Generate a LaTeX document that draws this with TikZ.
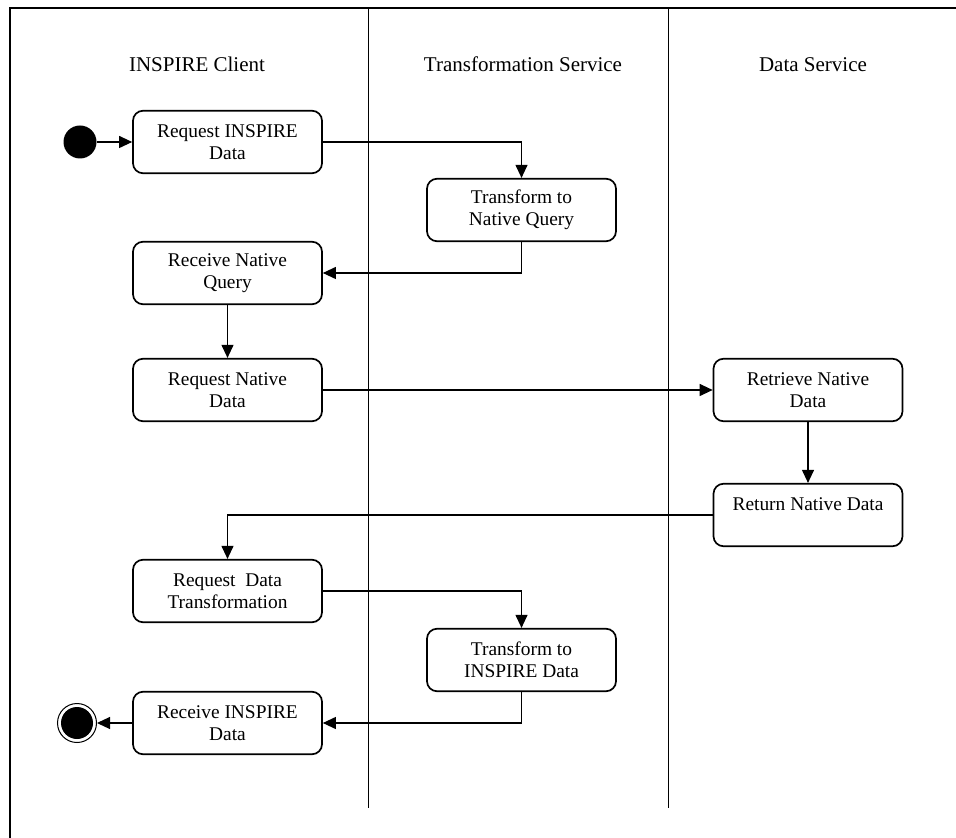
\documentclass[tikz,border=0pt]{standalone}
\usepackage{fontspec}
\setmainfont{Liberation Serif}
\usetikzlibrary{arrows.meta,positioning,calc}

\begin{document}
\begin{tikzpicture}[x=0.5pt,y=-0.5pt]
	\tikzstyle{every node}=[font=\fontsize{9.7}{11.25}\selectfont]
	\tikzstyle{activity}=[draw, line width=0.85pt, rounded corners=5pt, minimum width=94.5pt, minimum height=31.25pt, align=center, inner sep=0pt]
	\tikzstyle{lane}=[font=\fontsize{10.5}{12}\selectfont, anchor=base]
	\tikzstyle{flow}=[line width=0.55pt, -{Triangle[length=6.5pt,width=6pt]}]
	\useasboundingbox (0,0) rectangle (956,838);
	% frame and swimlanes
	\draw [line width=1pt] (10,838) -- (10,8) -- (956,8);
	\draw [line width=0.5pt] (368,8) -- (368,808);
	\draw [line width=0.5pt] (668,8) -- (668,808);
	\node [lane] (client) at (197,72) {INSPIRE Client};
	\node [lane] (transform) at (523,72) {Transformation Service};
	\node [lane] (data) at (813,72) {Data Service};
	% activities
	\node [circle, fill, minimum size=16.5pt, inner sep=0pt] (start) at (80,142) {};
	\node [activity] (reqinsp) at (227.5,142) {Request INSPIRE\\Data};
	\node [activity] (tonative) at (521.5,210) {Transform to\\Native Query};
	\node [activity] (recnative) at (227.5,273) {Receive Native\\Query};
	\node [activity] (reqnative) at (227.5,390) {Request Native\\Data};
	\node [activity] (retrieve) at (808,390) {Retrieve Native\\Data};
	\node [activity] (return) at (808,515) {Return Native Data\\\mbox{}};
	\node [activity] (reqtrans) at (227.5,591) {Request\ \ Data\\Transformation};
	\node [activity] (toinspire) at (521.5,660) {Transform to\\INSPIRE Data};
	\node [activity] (recinsp) at (227.5,723) {Receive INSPIRE\\Data};
	\node [circle, draw, line width=0.5pt, minimum size=19.5pt, inner sep=0pt] (stop) at (77,723) {};
	\fill (stop) circle (8pt);
	% flows
	\draw [flow] (start) -- (reqinsp);
	\draw [flow] (reqinsp.east) -| (tonative.north);
	\draw [flow] (tonative.south) |- (recnative.east);
	\draw [flow] (recnative) -- (reqnative);
	\draw [flow] (reqnative) -- (retrieve);
	\draw [flow] (retrieve) -- (return);
	\draw [flow] (return.west) -| (reqtrans.north);
	\draw [flow] (reqtrans.east) -| (toinspire.north);
	\draw [flow] (toinspire.south) |- (recinsp.east);
	\draw [flow] (recinsp) -- (stop);
\end{tikzpicture}
\end{document}
